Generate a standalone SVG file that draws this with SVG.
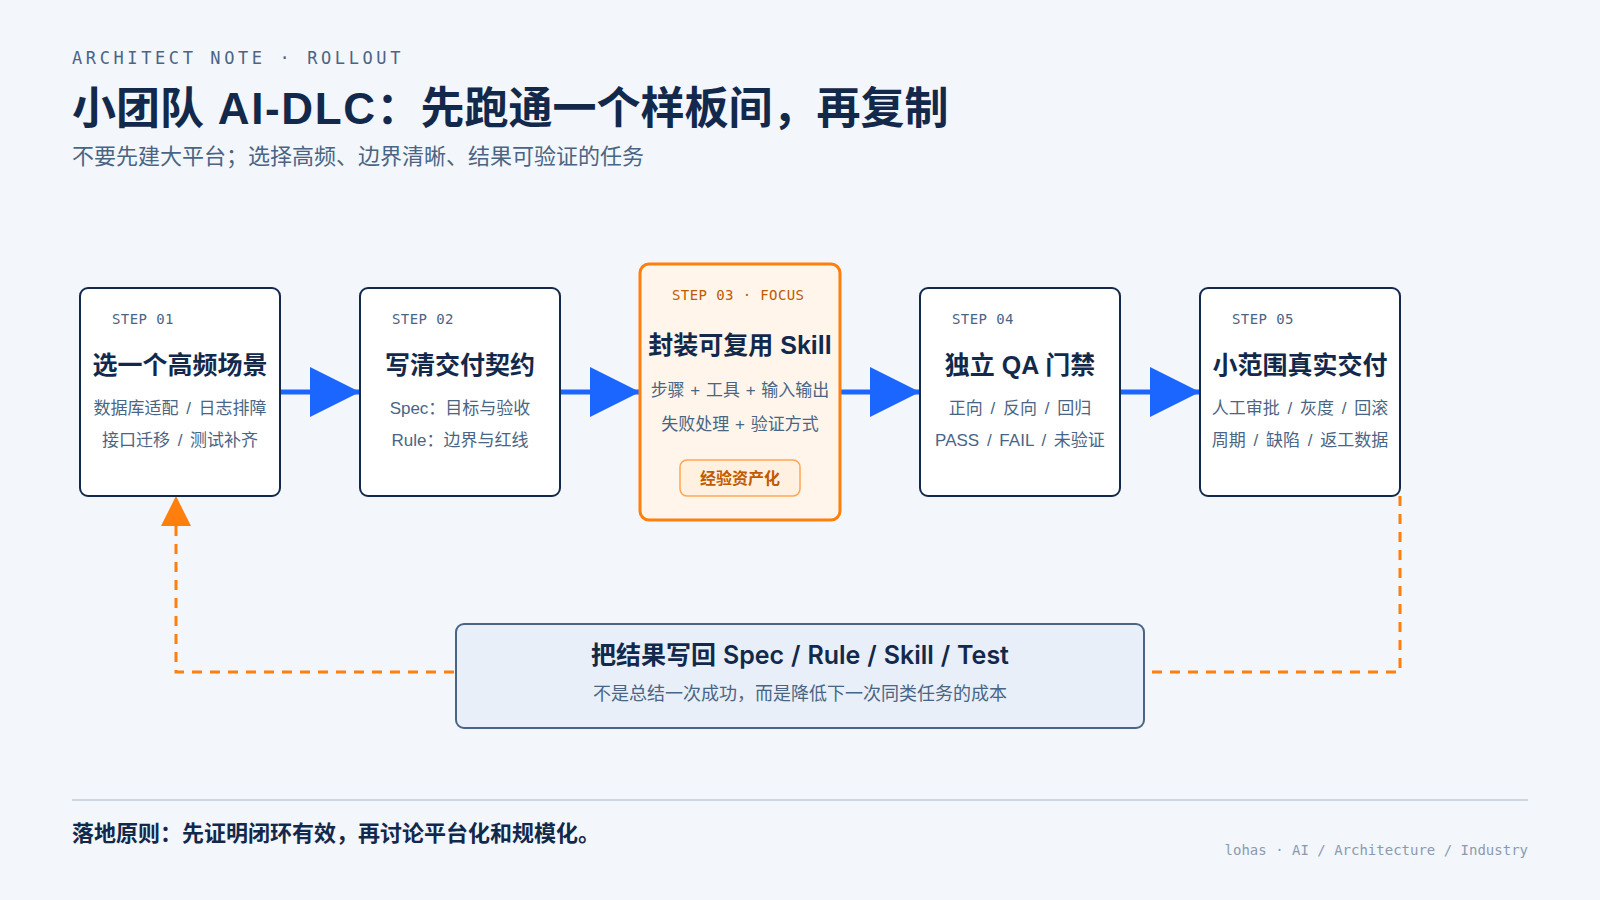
<svg xmlns="http://www.w3.org/2000/svg" width="1600" height="900" viewBox="0 0 1600 900">
<style>
.sans{font-family:"Liberation Sans","Noto Sans CJK SC",sans-serif}
.inter{font-family:"Inter","Noto Sans CJK SC",sans-serif}
.mono{font-family:"DejaVu Sans Mono","Liberation Mono",monospace}
.card{fill:#ffffff;stroke:#13294b;stroke-width:2}
.step{font-size:14px;fill:#4a6584;letter-spacing:0.4px}
.ttl{font-size:25px;font-weight:700;fill:#13294b;text-anchor:middle}
.desc{font-size:17px;fill:#4a6584;text-anchor:middle;word-spacing:3px}
.desc.plus{word-spacing:1px}
.flow{stroke:#1a66ff;stroke-width:5;fill:none;marker-end:url(#blueArrow)}
.loop{stroke:#ff7f0e;stroke-width:3;fill:none;stroke-dasharray:10 8}
</style>
<defs>
<marker id="blueArrow" markerUnits="userSpaceOnUse" markerWidth="50" markerHeight="50" viewBox="0 0 10 10" refX="10" refY="5" orient="auto">
<path d="M0,0 L10,5 L0,10 Z" fill="#1a66ff"/>
</marker>
</defs>
<rect width="1600" height="900" fill="#f3f6fb"/>

<g id="header">
<text class="mono" x="72" y="64" font-size="17" fill="#4a6584" letter-spacing="3.6">ARCHITECT NOTE · ROLLOUT</text>
<text class="sans" x="72" y="124" font-size="44" font-weight="700" fill="#13294b">小团队<tspan letter-spacing="1.6"> AI-DLC</tspan>：先跑通一个样板间，再复制</text>
<text class="sans" x="72" y="164" font-size="22" fill="#4a6584">不要先建大平台；选择高频、边界清晰、结果可验证的任务</text>
</g>

<g id="connectors">
<line class="flow" x1="280" y1="392" x2="360" y2="392"/>
<line class="flow" x1="560" y1="392" x2="640" y2="392"/>
<line class="flow" x1="840" y1="392" x2="920" y2="392"/>
<line class="flow" x1="1120" y1="392" x2="1200" y2="392"/>
<path class="loop" d="M1400,496 L1400,672 L1146,672"/>
<path class="loop" d="M454,672 L176,672 L176,526"/>
<path d="M176,496 L191,526 L161,526 Z" fill="#ff7f0e"/>
</g>

<g id="step1">
<rect class="card" x="80" y="288" width="200" height="208" rx="8"/>
<text class="mono step" x="112" y="324">STEP 01</text>
<text class="sans ttl" x="180" y="374">选一个高频场景</text>
<text class="sans desc" x="180" y="414">数据库适配 / 日志排障</text>
<text class="sans desc" x="180" y="446">接口迁移 / 测试补齐</text>
</g>

<g id="step2">
<rect class="card" x="360" y="288" width="200" height="208" rx="8"/>
<text class="mono step" x="392" y="324">STEP 02</text>
<text class="sans ttl" x="460" y="374">写清交付契约</text>
<text class="sans desc" x="460" y="414">Spec：目标与验收</text>
<text class="sans desc" x="460" y="446">Rule：边界与红线</text>
</g>

<g id="step3">
<rect x="640" y="264" width="200" height="256" rx="9" fill="#fff5ea" stroke="#ff7f0e" stroke-width="3"/>
<text class="mono step" x="672" y="300" style="fill:#c05a00">STEP 03 · FOCUS</text>
<text class="sans ttl" x="740" y="354">封装可复用 Skill</text>
<text class="sans desc plus" x="740" y="396">步骤 + 工具 + 输入输出</text>
<text class="sans desc plus" x="740" y="430">失败处理 + 验证方式</text>
<rect x="680" y="460" width="120" height="36" rx="7" fill="#fff0e0" stroke="#ffa654" stroke-width="1.5"/>
<text class="sans" x="740" y="484" font-size="16" font-weight="700" fill="#c05a00" text-anchor="middle">经验资产化</text>
</g>

<g id="step4">
<rect class="card" x="920" y="288" width="200" height="208" rx="8"/>
<text class="mono step" x="952" y="324">STEP 04</text>
<text class="sans ttl" x="1020" y="374">独立 QA 门禁</text>
<text class="sans desc" x="1020" y="414">正向 / 反向 / 回归</text>
<text class="sans desc" x="1020" y="446">PASS / FAIL / 未验证</text>
</g>

<g id="step5">
<rect class="card" x="1200" y="288" width="200" height="208" rx="8"/>
<text class="mono step" x="1232" y="324">STEP 05</text>
<text class="sans ttl" x="1300" y="374">小范围真实交付</text>
<text class="sans desc" x="1300" y="414">人工审批 / 灰度 / 回滚</text>
<text class="sans desc" x="1300" y="446">周期 / 缺陷 / 返工数据</text>
</g>

<g id="feedback">
<rect x="456" y="624" width="688" height="104" rx="8" fill="#e8eff8" stroke="#4a6584" stroke-width="2"/>
<text class="inter" x="800" y="664" font-size="25" font-weight="600" fill="#13294b" text-anchor="middle" word-spacing="0.6">把结果写回 Spec / Rule / Skill / Test</text>
<text class="sans" x="800" y="700" font-size="18" fill="#4a6584" text-anchor="middle">不是总结一次成功，而是降低下一次同类任务的成本</text>
</g>

<g id="footer">
<line x1="72" y1="800" x2="1528" y2="800" stroke="#cdd6e3" stroke-width="2"/>
<text class="sans" x="72" y="841" font-size="22" font-weight="700" fill="#13294b">落地原则：先证明闭环有效，再讨论平台化和规模化。</text>
<text class="mono" x="1528" y="855" font-size="14" fill="#8a9bb0" text-anchor="end">lohas · AI / Architecture / Industry</text>
</g>
</svg>
